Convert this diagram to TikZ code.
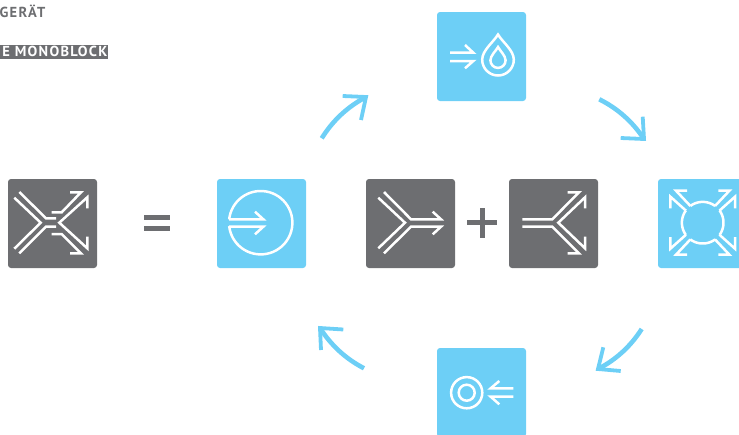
\documentclass[tikz,border=0pt]{standalone}
\usepackage{fontspec}
\setmainfont{PT Sans}
\newfontfamily\labelfont[LetterSpace=9]{PT Sans Bold}
\definecolor{tilegray}{HTML}{6D6E71}
\definecolor{tileblue}{HTML}{6DCFF6}
\tikzset{
  tile/.style={anchor=north west,minimum size=89pt,inner sep=0pt,outer sep=0pt,rounded corners=3pt,fill=#1},
  glyph/.style={draw=white,line width=2.5pt,line join=miter,line cap=butt,fill=none},
  flowline/.style={draw=tileblue,line width=4.6pt,line cap=butt},
  flowhead/.style={draw=tileblue,line width=3.8pt,line cap=butt,line join=miter,miter limit=20},
  mathbar/.style={fill=tilegray,draw=none},
  caption/.style={anchor=east,inner sep=0pt,font=\labelfont\fontsize{14.5}{14.5}\selectfont}
}
\newcommand{\dropshape}[4]{% tip y, centre x, centre y, radius
  \draw[glyph] (#2,#1) .. controls ({#2-0.28*#4},{#1+0.3*(#3-#1)}) and ({#2-#4},{#3-0.6*#4}) .. ({#2-#4},#3)
    .. controls ({#2-#4},{#3+0.552*#4}) and ({#2-0.552*#4},{#3+#4}) .. (#2,{#3+#4})
    .. controls ({#2+0.552*#4},{#3+#4}) and ({#2+#4},{#3+0.552*#4}) .. ({#2+#4},#3)
    .. controls ({#2+#4},{#3-0.6*#4}) and ({#2+0.28*#4},{#1+0.3*(#3-#1)}) .. cycle;}
\begin{document}
\begin{tikzpicture}[x=1pt,y=-1pt]
\useasboundingbox (0,0) rectangle (739,434);
\clip (0,0) rectangle (739,434);
% caption
\node[caption,text=tilegray] (capA) at (45.5,11.5) {GERÄT};
\fill[tilegray] (0,45) rectangle (108,58.5);
\node[caption,text=white] (capB) at (107.5,51.8) {E MONOBLOCK};
% tiles
\node[tile=tilegray] (mono) at (8,179) {};
\node[tile=tileblue] (intake) at (217,179) {};
\node[tile=tilegray] (merge) at (366,179) {};
\node[tile=tilegray] (split) at (509,179) {};
\node[tile=tileblue] (expand) at (658,179) {};
\node[tile=tileblue] (condense) at (437,12) {};
\node[tile=tileblue] (evap) at (437,348) {};
% equals and plus
\fill[mathbar] (144,215) rectangle (169.5,220);
\fill[mathbar] (144,226) rectangle (169.5,231);
\fill[mathbar] (467.3,220.2) rectangle (496.7,225.2);
\fill[mathbar] (479.5,208.3) rectangle (484.5,237.7);
% mono glyph
\draw[glyph] (19.3,192) -- (46,218.3) -- (56,218.3);
\draw[glyph] (19.3,253.3) -- (46,226.7) -- (56,226.7);
\draw[glyph] (14.3,197.7) -- (40.7,222.7) -- (14.3,248.7);
\draw[glyph] (51.7,212.3) -- (61.7,212.3) -- (81,192.3) -- (70,192.3);
\draw[glyph] (51.7,234) -- (61.7,234) -- (81,253.3) -- (70,253.3);
\draw[glyph] (87.3,208.3) -- (87.3,197.3) -- (59.3,222.7) -- (87.3,248.3) -- (87.3,236.7);
% intake glyph
\draw[glyph] plot[variable=\t,domain=186:533.8,samples=60] ({260.7+31.7*cos(\t)},{222.7+31.7*sin(\t)});
\draw[glyph] (229,219.3) -- (263.3,219.3) -- (255,211.7);
\draw[glyph] (229,226.7) -- (263.3,226.7) -- (255,234.3);
% merge glyph
\draw[glyph] (378.3,197.7) -- (405,222.7) -- (378.3,248.3);
\draw[glyph] (384,192) -- (411,219.3) -- (441,219.3) -- (432.7,211.7);
\draw[glyph] (384,253.3) -- (411,226.7) -- (441,226.7) -- (432.7,234.3);
% split glyph
\draw[glyph] (522.3,219.3) -- (552.3,219.3) -- (579,192.3) -- (567.7,192.3);
\draw[glyph] (522.3,226.7) -- (552.3,226.7) -- (579,253.3) -- (567.7,253.3);
\draw[glyph] (585,208.3) -- (585,197.3) -- (558.3,222.7) -- (585,248.3) -- (585,236.7);
% expand glyph
\foreach \a/\b in {233.5/306.5,-35.8/35.8,53.5/126.5,144.2/215.8}{
  \draw[glyph] plot[variable=\t,domain=\a:\b,samples=24] ({702.7+20.8*cos(\t)},{222.7+20.8*sin(\t)});
}
\foreach \sx/\sy in {1/1,-1/1,1/-1,-1/-1}{
  \draw[glyph] ({702.7+\sx*12.3},{222.7-\sy*16.7}) -- ({702.7+\sx*26.7},{222.7-\sy*32}) -- ({702.7+\sx*15.7},{222.7-\sy*32});
  \draw[glyph] ({702.7+\sx*16.7},{222.7-\sy*12}) -- ({702.7+\sx*32.3},{222.7-\sy*26}) -- ({702.7+\sx*32.3},{222.7-\sy*14.3});
}
% condenser glyph
\draw[glyph] (450,52.7) -- (473.3,52.7) -- (465,45);
\draw[glyph] (450,61) -- (473.3,61) -- (465,68.3);
\dropshape{34.5}{498}{59.7}{15.8}
\dropshape{47}{498}{60.3}{7.6}
% evaporator glyph
\draw[glyph] (466.7,392.7) circle[radius=15.6];
\draw[glyph] (466.7,392.7) circle[radius=8];
\draw[glyph] (513.3,388.3) -- (490.7,388.3) -- (499.3,381);
\draw[glyph] (513.3,396.7) -- (490.7,396.7) -- (499.3,404.3);
% cycle arrows
\coordinate (a1s) at (321.7,138.3); \coordinate (a1e) at (366,97);
\coordinate (a2s) at (599.3,99.3);  \coordinate (a2e) at (644,139);
\coordinate (a3s) at (641.7,329);   \coordinate (a3e) at (598,369);
\coordinate (a4s) at (364,368.3);   \coordinate (a4e) at (320,328);
\draw[flowline] (a1s) .. controls (332.8,120.5) and (347.5,106.8) .. (a1e);
\draw[flowline] (a2s) .. controls (617.7,108.5) and (632.6,121.8) .. (a2e);
\draw[flowline] (a3s) .. controls (630.7,346.2) and (616.2,359.6) .. (a3e);
\draw[flowline] (a4s) .. controls (345.7,358.8) and (331.1,345.3) .. (a4e);
\draw[flowhead] (342.7,96) -- (366,97) -- (361,120);
\draw[flowhead] (620.7,138) -- (644,139) -- (642.7,116.7);
\draw[flowhead] (620.7,371) -- (598,369) -- (603.3,347.3);
\draw[flowhead] (343.3,329.5) -- (320,328) -- (321,350);
\end{tikzpicture}
\end{document}
